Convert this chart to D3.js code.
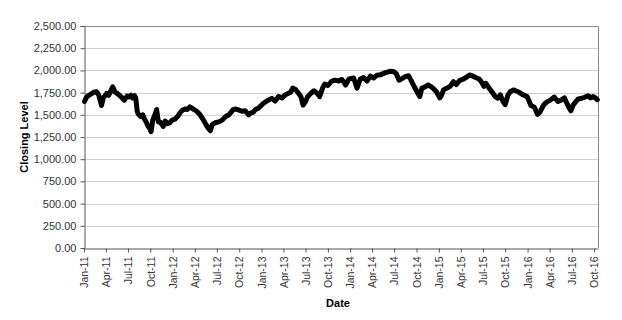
<!DOCTYPE html>
<html>
<head>
<meta charset="utf-8">
<script src="https://cdn.jsdelivr.net/npm/d3@7"></script>
<style>
  body { margin: 0; background: #fff; }
  svg { display: block; font-family: "Liberation Sans", Arial, sans-serif; }
  .tick text { fill: #333; }
</style>
</head>
<body>
<svg width="622" height="320"></svg>
<script>
// closing levels
const dates = [
  "2011-01-03","2011-01-10","2011-01-18","2011-01-31","2011-02-10","2011-02-22","2011-03-03","2011-03-14","2011-03-21",
  "2011-04-04","2011-04-13","2011-04-29","2011-05-09","2011-05-23","2011-06-01","2011-06-16","2011-06-27","2011-07-06",
  "2011-07-13","2011-07-21","2011-07-28","2011-08-02","2011-08-08","2011-08-12","2011-08-22","2011-08-31","2011-09-07",
  "2011-09-14","2011-09-22","2011-09-30","2011-10-04","2011-10-11","2011-10-20","2011-10-27","2011-11-03","2011-11-10",
  "2011-11-23","2011-12-01","2011-12-09","2011-12-20","2011-12-30",
  "2012-01-10","2012-01-24","2012-02-01","2012-02-10","2012-02-21","2012-03-01","2012-03-12","2012-03-23","2012-04-09",
  "2012-04-23","2012-05-07","2012-05-18","2012-05-29","2012-06-04","2012-06-12","2012-06-25","2012-07-09","2012-07-23",
  "2012-08-06","2012-08-20","2012-09-05","2012-09-14","2012-09-28","2012-10-12","2012-10-26","2012-11-09","2012-11-16",
  "2012-11-28","2012-12-07","2012-12-19",
  "2013-01-09","2013-01-30","2013-02-12","2013-02-26","2013-03-12","2013-03-26","2013-04-09","2013-04-29","2013-05-10",
  "2013-05-21","2013-06-03","2013-06-12","2013-06-21","2013-07-01","2013-07-10","2013-07-22","2013-08-05","2013-08-19",
  "2013-08-28","2013-09-09","2013-09-18","2013-10-01","2013-10-15","2013-10-29","2013-11-15","2013-11-26","2013-12-06",
  "2013-12-13","2013-12-27",
  "2014-01-15","2014-01-29","2014-02-11","2014-02-25","2014-03-11","2014-03-25","2014-04-07","2014-04-21","2014-05-05",
  "2014-05-26","2014-06-16","2014-06-30","2014-07-10","2014-07-21","2014-08-04","2014-08-15","2014-08-29","2014-09-08",
  "2014-09-19","2014-10-03","2014-10-14","2014-10-23","2014-11-06","2014-11-18","2014-11-28","2014-12-08","2014-12-22",
  "2015-01-05","2015-01-12","2015-01-20","2015-02-02","2015-02-16","2015-03-02","2015-03-13","2015-03-27","2015-04-10",
  "2015-04-23","2015-05-07","2015-05-18","2015-06-01","2015-06-15","2015-06-24","2015-07-06","2015-07-13","2015-07-27",
  "2015-08-07","2015-08-21","2015-08-31","2015-09-11","2015-09-22","2015-10-01","2015-10-12","2015-10-22","2015-11-04",
  "2015-11-23","2015-12-13","2015-12-30",
  "2016-01-15","2016-01-29","2016-02-11","2016-02-22","2016-03-07","2016-03-18","2016-04-04","2016-04-20","2016-05-05",
  "2016-05-18","2016-06-01","2016-06-14","2016-06-27","2016-07-08","2016-07-26","2016-08-16","2016-09-06","2016-09-16",
  "2016-09-26","2016-10-07","2016-10-14"
];
const closes = [
  1650,1690,1715,1735,1755,1760,1720,1605,1690,
  1740,1720,1815,1755,1730,1705,1665,1710,1700,
  1720,1690,1715,1690,1540,1510,1480,1500,1450,
  1420,1370,1340,1310,1440,1500,1560,1420,1420,
  1370,1430,1400,1410,1440,
  1450,1490,1525,1550,1565,1560,1590,1570,1540,
  1500,1440,1385,1340,1320,1390,1410,1420,1440,
  1480,1500,1555,1565,1555,1540,1545,1500,1520,
  1530,1560,1575,
  1630,1667,1685,1655,1705,1690,1725,1750,1800,
  1785,1740,1705,1610,1650,1705,1740,1770,1740,
  1705,1800,1845,1830,1875,1890,1880,1900,1870,
  1835,1905,
  1915,1800,1900,1920,1880,1935,1915,1945,1950,
  1975,1990,1985,1960,1890,1910,1930,1940,1890,
  1830,1760,1705,1800,1815,1836,1820,1800,1760,
  1690,1720,1780,1800,1820,1873,1840,1885,1900,
  1920,1948,1940,1920,1905,1875,1820,1855,1800,
  1760,1705,1687,1725,1650,1615,1720,1760,1780,
  1760,1725,1705,
  1605,1585,1505,1535,1610,1640,1665,1700,1650,
  1665,1690,1610,1545,1615,1675,1690,1715,1690,
  1705,1690,1670
];
const yTicks = [0, 250, 500, 750, 1000, 1250, 1500, 1750, 2000, 2250, 2500];
const xTickDates = [
  "2011-01-01","2011-04-01","2011-07-01","2011-10-01","2012-01-01","2012-04-01","2012-07-01","2012-10-01",
  "2013-01-01","2013-04-01","2013-07-01","2013-10-01","2014-01-01","2014-04-01","2014-07-01","2014-10-01",
  "2015-01-01","2015-04-01","2015-07-01","2015-10-01","2016-01-01","2016-04-01","2016-07-01","2016-10-01"
];

const parse = d3.timeParse("%Y-%m-%d");
const series = dates.map((d, i) => ({ date: parse(d), value: closes[i] }));

const svg = d3.select("svg");
const plot = { left: 84, top: 26, right: 598, bottom: 248 };

const x = d3.scaleTime()
  .domain([parse("2011-01-01"), parse("2016-10-17")])
  .range([plot.left, plot.right]);
const y = d3.scaleLinear()
  .domain([0, 2500])
  .range([plot.bottom, plot.top]);

// gridlines
svg.append("g")
  .selectAll("line")
  .data(yTicks.slice(1))
  .join("line")
  .attr("x1", plot.left).attr("x2", plot.right)
  .attr("y1", d => Math.round(y(d)) + 0.5).attr("y2", d => Math.round(y(d)) + 0.5)
  .attr("stroke", "#cfcfcf");

// top and right border
svg.append("path")
  .attr("d", `M${plot.left},${plot.top + 0.5}H${plot.right + 0.5}V${plot.bottom}`)
  .attr("fill", "none")
  .attr("stroke", "#8a8a8a");

// y axis
const fmt = d3.format(",.2f");
const yAxis = svg.append("g")
  .attr("transform", `translate(${plot.left + 0.5},0)`)
  .call(d3.axisLeft(y).tickValues(yTicks).tickFormat(fmt).tickSize(4).tickPadding(4));
yAxis.selectAll("text").style("font-size", "11px");
yAxis.selectAll("line, path").attr("stroke", "#555");

// x axis
const xAxis = svg.append("g")
  .attr("transform", `translate(0,${plot.bottom + 0.5})`)
  .call(d3.axisBottom(x).tickValues(xTickDates.map(parse)).tickFormat(d3.timeFormat("%b-%y")).tickSize(4).tickSizeOuter(0));
xAxis.selectAll("line, path").attr("stroke", "#555");
xAxis.selectAll("text")
  .style("font-size", "10.5px")
  .attr("text-anchor", "end")
  .attr("transform", "rotate(-90)")
  .attr("x", -8)
  .attr("y", 0)
  .attr("dy", "0.35em");

// the series
const line = d3.line()
  .x(d => x(d.date))
  .y(d => y(d.value));

svg.append("path")
  .datum(series)
  .attr("d", line)
  .attr("fill", "none")
  .attr("stroke", "#000")
  .attr("stroke-width", 5)
  .attr("stroke-linejoin", "round")
  .attr("stroke-linecap", "round");

// axis titles
svg.append("text")
  .attr("transform", `translate(28,${(plot.top + plot.bottom) / 2}) rotate(-90)`)
  .attr("text-anchor", "middle")
  .style("font-size", "11px")
  .style("font-weight", "bold")
  .text("Closing Level");

svg.append("text")
  .attr("x", 338)
  .attr("y", 307)
  .attr("text-anchor", "middle")
  .style("font-size", "11px")
  .style("font-weight", "bold")
  .text("Date");
</script>
</body>
</html>
